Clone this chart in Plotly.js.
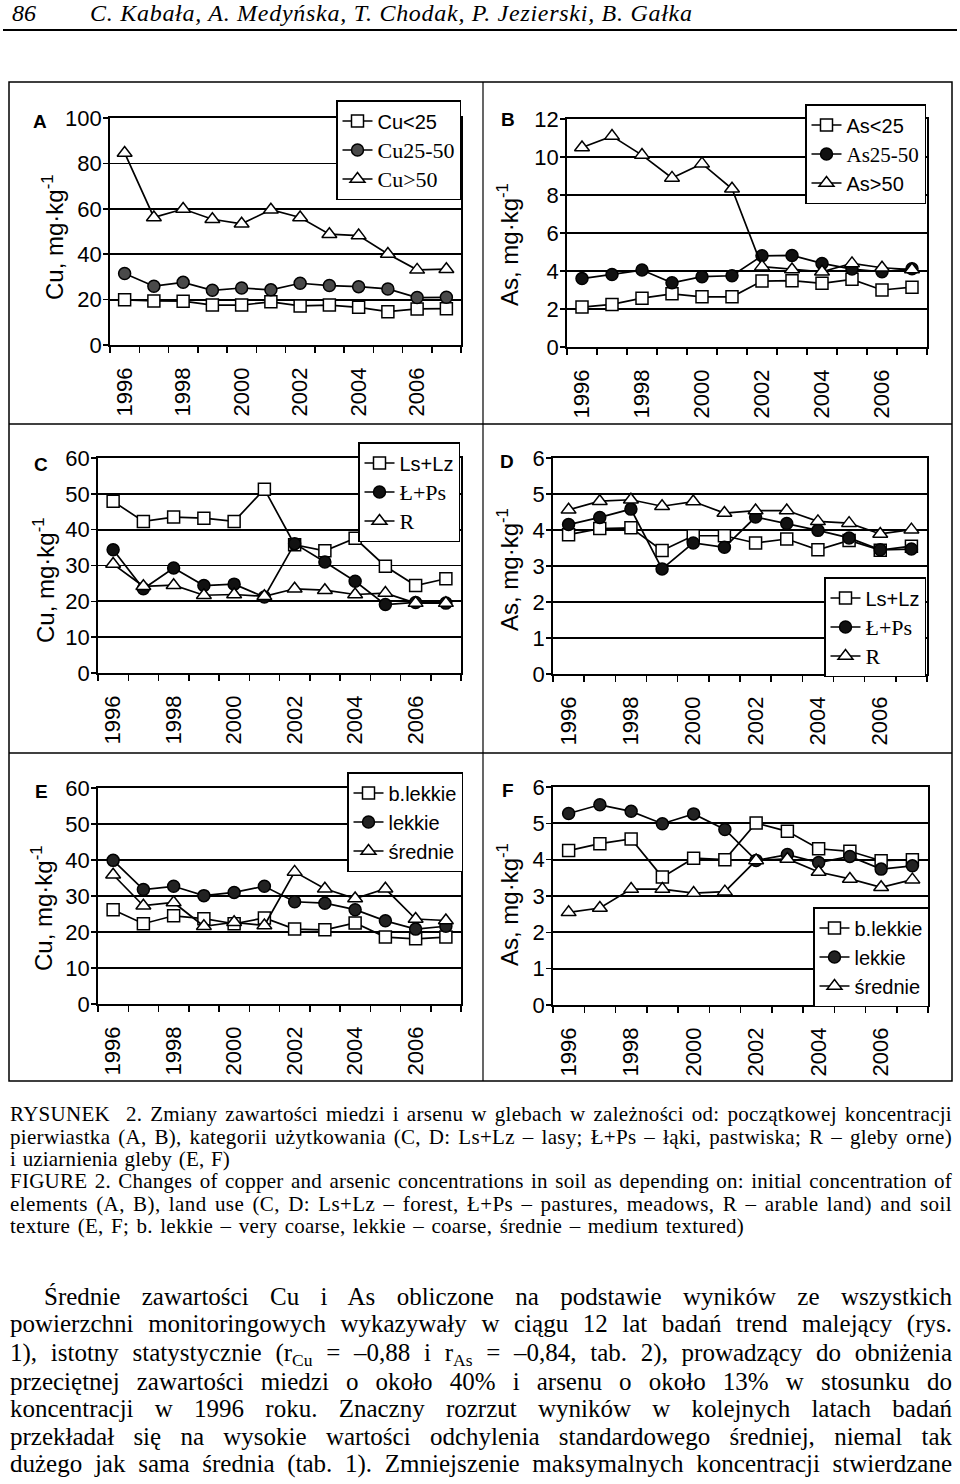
<!DOCTYPE html>
<html>
<head>
<meta charset="utf-8">
<script src="https://cdn.plot.ly/plotly-3.0.1.min.js"></script>
<style>
  html, body { margin: 0; padding: 0; background: #fff; }
  #chart { width: 960px; height: 1484px; }
</style>
</head>
<body>
<div id="chart"></div>
<script>
// ---------------- DATA ----------------
const years = [1996, 1997, 1998, 1999, 2000, 2001, 2002, 2003, 2004, 2005, 2006, 2007];
const tickYears = [1996, 1998, 2000, 2002, 2004, 2006];
const tickLabels = ["1996", "1998", "2000", "2002", "2004", "2006"];

// A: Cu by initial concentration
const namesA = ["Cu<25", "Cu25-50", "Cu>50"];
const cuLow  = [19.9, 19.4, 19.3, 17.6, 17.6, 19.0, 17.2, 17.6, 16.6, 14.7, 15.9, 16.0];
const cuMid  = [31.5, 25.9, 27.6, 24.1, 25.1, 24.3, 27.2, 26.2, 25.7, 24.7, 20.9, 21.0];
const cuHigh = [84.6, 56.2, 59.9, 55.4, 53.4, 59.6, 56.2, 48.8, 48.2, 40.1, 33.1, 33.4];

// B: As by initial concentration
const namesB = ["As<25", "As25-50", "As>50"];
const asLow  = [2.10, 2.24, 2.57, 2.80, 2.64, 2.64, 3.47, 3.49, 3.35, 3.56, 3.00, 3.15];
const asMid  = [3.60, 3.82, 4.05, 3.38, 3.70, 3.75, 4.80, 4.82, 4.40, 4.10, 3.96, 4.12];
const asHigh = [10.5, 11.1, 10.1, 8.90, 9.65, 8.33, 4.23, 4.08, 3.96, 4.40, 4.17, 4.08];

// C: Cu by land use
const namesCD = ["Ls+Lz", "Ł+Ps", "R"];
const cuForest = [47.9, 42.3, 43.5, 43.2, 42.3, 51.3, 35.8, 34.1, 37.6, 29.8, 24.4, 26.3];
const cuMeadow = [34.4, 23.5, 29.3, 24.4, 24.8, 21.2, 36.1, 31.0, 25.6, 19.1, 19.7, 19.5];
const cuArable = [30.4, 24.2, 24.5, 21.7, 21.9, 21.4, 23.5, 23.1, 21.9, 22.3, 19.5, 19.5];

// D: As by land use
const asForest = [3.87, 4.04, 4.06, 3.43, 3.84, 3.84, 3.64, 3.75, 3.45, 3.71, 3.44, 3.55];
const asMeadow = [4.15, 4.35, 4.58, 2.92, 3.64, 3.52, 4.36, 4.18, 3.99, 3.78, 3.45, 3.47];
const asArable = [4.56, 4.80, 4.84, 4.66, 4.79, 4.47, 4.54, 4.54, 4.24, 4.19, 3.89, 4.01];

// E: Cu by soil texture
const namesEF = ["b.lekkie", "lekkie", "średnie"];
const cuVeryCoarse = [26.2, 22.3, 24.5, 23.7, 22.3, 23.9, 20.8, 20.6, 22.5, 18.6, 18.1, 18.6];
const cuCoarse     = [39.9, 31.8, 32.7, 30.1, 31.0, 32.7, 28.4, 28.0, 26.2, 23.1, 20.8, 21.6];
const cuMedium     = [35.9, 27.3, 28.2, 21.6, 22.7, 21.8, 36.7, 32.0, 29.3, 32.0, 23.6, 23.2];

// F: As by soil texture
const asVeryCoarse = [4.25, 4.44, 4.57, 3.52, 4.04, 4.00, 5.01, 4.78, 4.30, 4.23, 3.97, 4.00];
const asCoarse     = [5.27, 5.51, 5.33, 4.99, 5.26, 4.83, 3.98, 4.14, 3.92, 4.09, 3.74, 3.83];
const asMedium     = [2.55, 2.67, 3.19, 3.19, 3.08, 3.12, 3.98, 4.02, 3.66, 3.47, 3.24, 3.45];

const yMax  = [100, 12, 60, 6, 60, 6];
const yStep = [20, 2, 10, 1, 10, 1];
const yTitles = ["Cu, mg·kg<sup>-1</sup>", "As, mg·kg<sup>-1</sup>", "Cu, mg·kg<sup>-1</sup>",
                 "As, mg·kg<sup>-1</sup>", "Cu, mg·kg<sup>-1</sup>", "As, mg·kg<sup>-1</sup>"];
const panelLetters = ["A", "B", "C", "D", "E", "F"];

// ---------------- LAYOUT HELPERS ----------------
const W = 960, H = 1484;
const px = x => x / W;
const py = y => 1 - y / H;

const SANS = "Liberation Sans, Arial, sans-serif";
const SERIF = "Liberation Serif, Times New Roman, serif";
const serifSpan = (t, s) => '<span style="font-family:Liberation Serif;font-size:' + s + 'px">' + t + '</span>';

const boxes = [
  {x: [110, 461], y: [118, 345]},
  {x: [567, 927], y: [119, 347]},
  {x: [98, 461],  y: [458, 673]},
  {x: [553, 927], y: [458, 674]},
  {x: [98, 461],  y: [788, 1004]},
  {x: [553, 928], y: [787, 1005]}
];
const legendPos = [[336, 100], [805, 104], [358, 442], [824, 577], [347, 772], [813, 907]];
const titlePos = [[53, 237], [508, 245], [44, 580], [508, 570], [42, 908], [508, 905]];
const letterPos = [[40, 121], [508, 119], [41, 464], [507, 461], [41, 791], [508, 790]];

const markerStyles = [
  {symbol: "square", color: "#ffffff", size: 12},
  {symbol: "circle", color: "#111111", size: 12},
  {symbol: "triangle-up", color: "#ffffff", size: 13}
];

const panelSeries = [
  {vals: [cuLow, cuMid, cuHigh], names: [namesA[0], serifSpan(namesA[1], 22), serifSpan(namesA[2], 22)], mid: "#4a4a4a"},
  {vals: [asLow, asMid, asHigh], names: [namesB[0], serifSpan(namesB[1], 21), namesB[2]], mid: "#111111"},
  {vals: [cuForest, cuMeadow, cuArable], names: [namesCD[0], serifSpan(namesCD[1], 22), serifSpan(namesCD[2], 22)], mid: "#111111"},
  {vals: [asForest, asMeadow, asArable], names: [namesCD[0], serifSpan(namesCD[1], 22), serifSpan(namesCD[2], 22)], mid: "#111111"},
  {vals: [cuVeryCoarse, cuCoarse, cuMedium], names: namesEF, mid: "#222222"},
  {vals: [asVeryCoarse, asCoarse, asMedium], names: namesEF, mid: "#222222"}
];

const traces = [];
const layout = {
  width: W, height: H,
  margin: {l: 0, r: 0, t: 0, b: 0},
  paper_bgcolor: "#ffffff",
  plot_bgcolor: "#ffffff",
  showlegend: true,
  font: {family: SANS, color: "#000", size: 20},
  shapes: [],
  annotations: []
};

panelSeries.forEach((p, i) => {
  const n = i + 1;
  const sfx = n === 1 ? "" : String(n);
  const legName = "legend" + sfx;
  p.vals.forEach((v, k) => {
    const ms = markerStyles[k];
    traces.push({
      type: "scatter", mode: "lines+markers",
      x: years, y: v,
      xaxis: "x" + sfx, yaxis: "y" + sfx,
      legend: legName,
      name: p.names[k],
      line: {color: "#000", width: 1.7},
      marker: {symbol: ms.symbol, size: ms.size, color: k === 1 ? p.mid : ms.color,
               line: {color: "#000", width: 1.5}},
      hoverinfo: "skip"
    });
  });
  const b = boxes[i];
  layout["xaxis" + sfx] = {
    domain: [px(b.x[0]), px(b.x[1])],
    anchor: "y" + sfx,
    range: [1995.5, 2007.5],
    tickmode: "array", tickvals: tickYears, ticktext: tickLabels,
    tickangle: -90,
    ticks: "outside", ticklen: 0, tickwidth: 1.5, tickcolor: "#000",
    ticklabelstandoff: 12,
    minor: {tick0: 1995.5, dtick: 1, ticks: "outside", ticklen: 6, tickwidth: 1.5, tickcolor: "#000", showgrid: false},
    tickfont: {family: SANS, size: 22, color: "#000"},
    showline: true, linecolor: "#000", linewidth: 1.8, mirror: true,
    showgrid: false, zeroline: false, fixedrange: true
  };
  layout["yaxis" + sfx] = {
    domain: [py(b.y[1]), py(b.y[0])],
    anchor: "x" + sfx,
    range: [0, yMax[i]],
    dtick: yStep[i], tick0: 0,
    ticks: "outside", ticklen: 5, tickwidth: 1.5, tickcolor: "#000",
    ticklabelstandoff: -3,
    tickfont: {family: SANS, size: 22, color: "#000"},
    showline: true, linecolor: "#000", linewidth: 1.8, mirror: true,
    showgrid: true, gridcolor: "#000", gridwidth: 1.8,
    zeroline: false, fixedrange: true
  };
  layout[legName] = {
    x: px(legendPos[i][0]), y: py(legendPos[i][1]),
    xanchor: "left", yanchor: "top",
    bgcolor: "#ffffff", bordercolor: "#000", borderwidth: 1.5,
    font: {family: SANS, size: 20, color: "#000"},
    tracegroupgap: 0, itemwidth: 30, traceorder: "normal"
  };
  layout.annotations.push({
    text: "<b>" + panelLetters[i] + "</b>", xref: "paper", yref: "paper",
    x: px(letterPos[i][0]), y: py(letterPos[i][1]),
    xanchor: "center", yanchor: "middle", showarrow: false,
    font: {family: SANS, size: 19, color: "#000"}
  });
  // y-axis title
  layout.annotations.push({
    text: yTitles[i], xref: "paper", yref: "paper",
    x: px(titlePos[i][0]), y: py(titlePos[i][1]),
    xanchor: "center", yanchor: "middle", textangle: -90, showarrow: false,
    font: {family: SANS, size: 24, color: "#000"}
  });
});

// frame of the figure
const lineShape = (x0, y0, x1, y1, w) => ({type: "line", xref: "paper", yref: "paper",
  x0: px(x0), y0: py(y0), x1: px(x1), y1: py(y1), line: {color: "#000", width: w}});
layout.shapes.push({type: "rect", xref: "paper", yref: "paper", x0: px(9), y0: py(82), x1: px(952), y1: py(1081),
  line: {color: "#000", width: 1.5}, layer: "below"});
layout.shapes.push(lineShape(483, 82, 483, 1081, 1.2));
layout.shapes.push(lineShape(9, 424, 952, 424, 1.5));
layout.shapes.push(lineShape(9, 753, 952, 753, 1.5));
layout.shapes.push(lineShape(3, 30, 957, 30, 2));

// ---------------- PAGE TEXT ----------------
const justifySpec = {};
function addText(text, x, y, font, target, mode) {
  layout.annotations.push({
    text: text, xref: "paper", yref: "paper", x: px(x), y: py(y),
    xanchor: "left", yanchor: "middle", align: "left", showarrow: false, font: font
  });
  if (target) justifySpec[layout.annotations.length - 1] = {w: target, mode: mode};
}
const headFont = {family: SERIF, size: 24, color: "#000", style: "italic"};
addText("86", 10, 13, headFont);
addText("C. Kabała, A. Medyńska, T. Chodak, P. Jezierski, B. Gałka", 88, 13, headFont, 602, "letter");

const capFont = {family: SERIF, size: 21, color: "#000"};
const capLines = [
  ["RYSUNEK  2. Zmiany zawartości miedzi i arsenu w glebach w zależności od: początkowej koncentracji", 1114, 942],
  ["pierwiastka (A, B), kategorii użytkowania (C, D: Ls+Lz – lasy; Ł+Ps – łąki, pastwiska; R – gleby orne)", 1137, 942],
  ["i uziarnienia gleby (E, F)", 1159, 220],
  ["FIGURE 2. Changes of copper and arsenic concentrations in soil as depending on: initial concentration of", 1181, 942],
  ["elements (A, B), land use (C, D: Ls+Lz – forest, Ł+Ps – pastures, meadows, R – arable land) and soil", 1204, 942],
  ["texture (E, F; b. lekkie – very coarse, lekkie – coarse, średnie – medium textured)", 1226, 734]
];
capLines.forEach(l => addText(l[0], 8, l[1], capFont, l[2], "mixed"));

const parFont = {family: SERIF, size: 25, color: "#000"};
const parLines = [
  ["Średnie zawartości Cu i As obliczone na podstawie wyników ze wszystkich", 42, 1296],
  ["powierzchni monitoringowych wykazywały w ciągu 12 lat badań trend malejący (rys.", 8, 1324],
  ["1), istotny statystycznie (r<sub>Cu</sub> = –0,88 i r<sub>As</sub> = –0,84, tab. 2), prowadzący do obniżenia", 8, 1354],
  ["przeciętnej zawartości miedzi o około 40% i arsenu o około 13% w stosunku do", 8, 1381],
  ["koncentracji w 1996 roku. Znaczny rozrzut wyników w kolejnych latach badań", 8, 1408],
  ["przekładał się na wysokie wartości odchylenia standardowego średniej, niemal tak", 8, 1436],
  ["dużego jak sama średnia (tab. 1). Zmniejszenie maksymalnych koncentracji stwierdzane", 8, 1464]
];
parLines.forEach(l => addText(l[0], l[1], l[2], parFont, 950 - l[1], "word"));

function justify() {
  document.querySelectorAll("g.annotation").forEach(g => {
    const idx = +g.getAttribute("data-index");
    const spec = justifySpec[idx];
    if (!spec) return;
    const t = g.querySelector("text.annotation-text");
    if (!t) return;
    const s = t.textContent;
    const nSpaces = (s.match(/ /g) || []).length;
    if (spec.mode === "letter") {
      const nat = t.getComputedTextLength();
      t.style.letterSpacing = ((spec.w - nat) / Math.max(1, s.length - 1)) + "px";
      return;
    }
    if (spec.mode === "mixed") {
      const nat0 = t.getComputedTextLength();
      const extra = spec.w - nat0;
      const ls = Math.max(0, Math.min(0.6, extra * 0.45 / Math.max(1, s.length - 1)));
      t.style.letterSpacing = ls + "px";
    }
    const nat = t.getComputedTextLength();
    if (nSpaces > 0) t.style.wordSpacing = ((spec.w - nat) / nSpaces) + "px";
  });
}

Plotly.newPlot("chart", traces, layout, {staticPlot: true, displayModeBar: false}).then(justify);
</script>
</body>
</html>
